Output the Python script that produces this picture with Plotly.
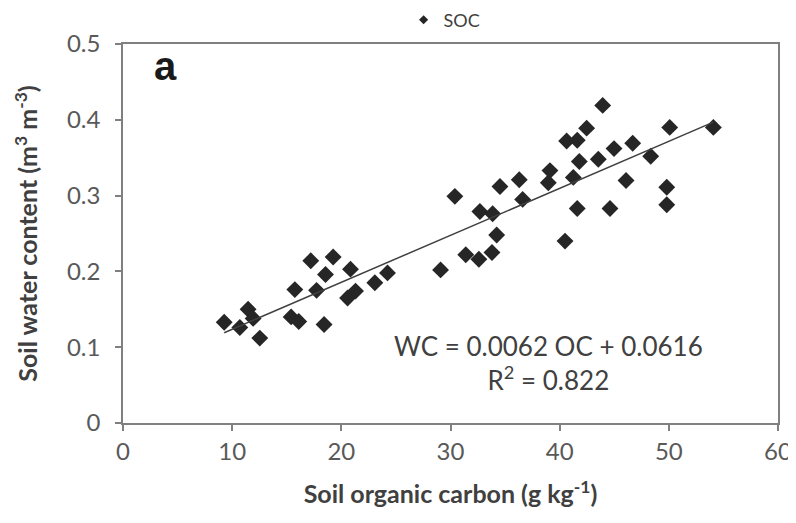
import plotly.graph_objects as go

# Soil organic carbon (g kg-1)
soc = [9.27, 10.70, 11.46, 11.92, 12.53, 15.4, 16.1, 15.74, 17.73, 17.20,
       19.25, 18.55, 20.84, 18.42, 20.57, 21.30, 23.07, 24.23,
       29.09, 30.40, 31.4, 32.6, 33.8, 34.23, 32.69, 33.86, 34.53, 36.30,
       36.61, 39.11, 38.96, 40.49,
       40.64, 41.61, 42.47, 43.94, 41.25, 41.80, 41.61, 43.54, 44.98, 44.61,
       46.08, 46.69, 48.34, 49.81, 49.81, 50.08, 54.08]
# Soil water content (m3 m-3)
wc = [0.133, 0.126, 0.150, 0.138, 0.112, 0.140, 0.134, 0.176, 0.175, 0.214,
      0.219, 0.196, 0.203, 0.130, 0.165, 0.174, 0.185, 0.198,
      0.202, 0.299, 0.222, 0.216, 0.225, 0.248, 0.279, 0.276, 0.312, 0.321,
      0.295, 0.333, 0.317, 0.240,
      0.372, 0.373, 0.389, 0.419, 0.324, 0.345, 0.283, 0.348, 0.362, 0.283,
      0.320, 0.369, 0.352, 0.311, 0.288, 0.390, 0.390]

slope = 0.0062
intercept = 0.0616
r2 = 0.822

x_ticks = [0, 10, 20, 30, 40, 50, 60]
y_ticks = [0, 0.1, 0.2, 0.3, 0.4, 0.5]
y_ticklabels = ["0", "0.1", "0.2", "0.3", "0.4", "0.5"]

fit_x = [min(soc), max(soc)]
fit_y = [slope * v + intercept for v in fit_x]

FONT = "Lato, 'Open Sans', sans-serif"

fig = go.Figure()
fig.add_trace(go.Scatter(
    x=soc, y=wc, mode="markers", name="SOC", showlegend=False,
    marker=dict(symbol="diamond", size=13, color="#262626"),
))
fig.add_trace(go.Scatter(
    x=fit_x, y=fit_y, mode="lines", showlegend=False,
    line=dict(color="#404040", width=1.5),
))
# legend entry (small marker like the original)
fig.add_trace(go.Scatter(
    x=[None], y=[None], mode="markers", name="SOC",
    marker=dict(symbol="diamond", size=7, color="#262626"),
))

fig.add_annotation(
    x=0.045, y=0.943, xref="paper", yref="paper", xanchor="left", yanchor="middle",
    text="<b>a</b>", showarrow=False,
    font=dict(family="Liberation Sans, Arial, sans-serif", size=40, color="#1a1a1a"),
)
fig.add_annotation(
    x=0.650, y=0.157, xref="paper", yref="paper", xanchor="center", yanchor="middle",
    text=f"WC = {slope} OC + {intercept}<br>R<sup>2</sup> = {r2}",
    showarrow=False, align="center",
    font=dict(family=FONT, size=26, color="#404040"),
)

axis_common = dict(
    showline=True, mirror=True, linecolor="#808080", linewidth=1.5,
    showgrid=False, zeroline=False, ticks="outside", ticklen=6,
    tickcolor="#808080", tickwidth=1.5,
    tickfont=dict(family=FONT, size=24, color="#595959"),
)

fig.update_xaxes(
    range=[0, 60], tickvals=x_ticks, **axis_common,
    ticklabeloverflow="allow",
    title=dict(text="<b>Soil organic carbon (g kg<sup>-1</sup>)</b>",
               font=dict(family=FONT, size=25, color="#404040"), standoff=22),
)
fig.update_yaxes(
    range=[0, 0.5], tickvals=y_ticks, ticktext=y_ticklabels, **axis_common,
    ticklabelstandoff=10,
    title=dict(text="<b>Soil water content (m<sup>3</sup> m<sup>-3</sup>)</b>",
               font=dict(family=FONT, size=25, color="#404040"), standoff=22),
)

fig.update_layout(
    width=788, height=507,
    margin=dict(l=115, r=18, t=36, b=92, autoexpand=False),
    plot_bgcolor="white", paper_bgcolor="white",
    showlegend=True,
    legend=dict(orientation="h", x=0.491, y=1.063, xanchor="center", yanchor="middle",
                font=dict(family=FONT, size=18, color="#404040"),
                itemwidth=30, bgcolor="rgba(0,0,0,0)"),
)

fig.write_html("out.html")
